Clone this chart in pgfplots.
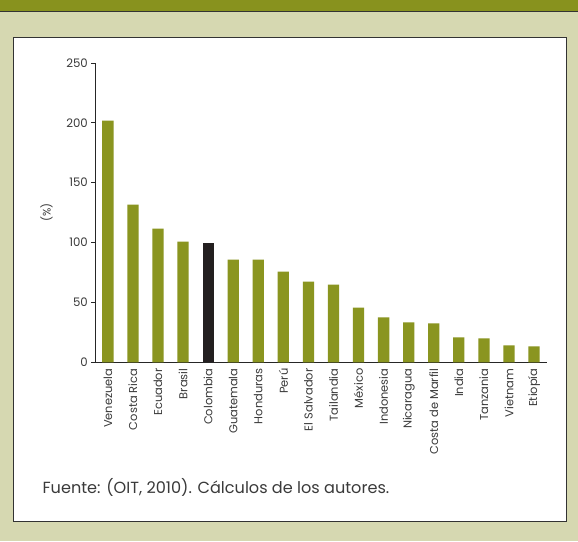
\documentclass[border=0pt]{standalone}
\usepackage{pgfplots}
\pgfplotsset{compat=1.18}
\usepackage{fontspec}
\setmainfont{Poppins}
\definecolor{bgk}{HTML}{D6D8B1}
\definecolor{band}{HTML}{88921E}
\definecolor{barg}{HTML}{8A9520}
\definecolor{barc}{HTML}{231F20}
\definecolor{txt}{HTML}{3A3A3A}
\begin{document}
\begin{tikzpicture}[x=1bp,y=1bp]
\fill[bgk] (0,0) rectangle (578,542);
\fill[band] (0,530) rectangle (578,542);
\draw[black!80,line width=1bp] (0,530) -- (578,530);
\draw[fill=white,draw=black!80,line width=0.9bp] (12.5,19.5) rectangle (567,504.5);
\node[anchor=base west,text=txt,font=\fontsize{16.2}{19}\selectfont,inner sep=0pt] at (42,48) {Fuente: (OIT, 2010). Cálculos de los autores.};
\begin{axis}[
  at={(95bp,179bp)}, anchor=south west,
  scale only axis, width=452bp, height=300bp,
  xmin=-0.5, xmax=17.5, ymin=0, ymax=250,
  axis lines*=left,
  axis line style={black!85, line width=0.7bp},
  ytick={0,50,...,250},
  xtick={0,...,17},
  xticklabels={Venezuela,Costa Rica,Ecuador,Brasil,Colombia,Guatemala,Honduras,Perú,El Salvador,Tailandia,México,Indonesia,Nicaragua,Costa de Marfil,India,Tanzania,Vietnam,Etiopía},
  minor xtick={-0.5,0.5,...,17.5},
  xtick style={draw=none},
  minor x tick style={black!85, line width=0.7bp},
  y tick style={black!85, line width=0.7bp},
  tick align=outside,
  major tick length=4bp, minor tick length=4bp,
  x tick label style={rotate=90, anchor=east, font=\fontsize{11.5}{13}\selectfont, text=txt, inner sep=2bp},
  y tick label style={font=\fontsize{11.8}{13}\selectfont, text=txt},
  /pgf/number format/assume math mode=true,
  ylabel={(\%)},
  ylabel style={at={(axis description cs:0,0.5)}, anchor=center, yshift=49bp, font=\fontsize{11}{13}\selectfont, text=txt},
  ybar, bar width=11.3bp, bar shift=0pt,
]
\addplot[fill=barg, draw=none] coordinates {
(0,201.7) (1,131.7) (2,111.7) (3,100.8) (5,85.8) (6,85.8) (7,75.8) (8,67.5) (9,65) (10,45.8) (11,37.5) (12,33.3) (13,32.5) (14,20.8) (15,20) (16,14.2) (17,13.3)};
\addplot[fill=barc, draw=none] coordinates {(4,100)};
\end{axis}
\end{tikzpicture}
\end{document}
